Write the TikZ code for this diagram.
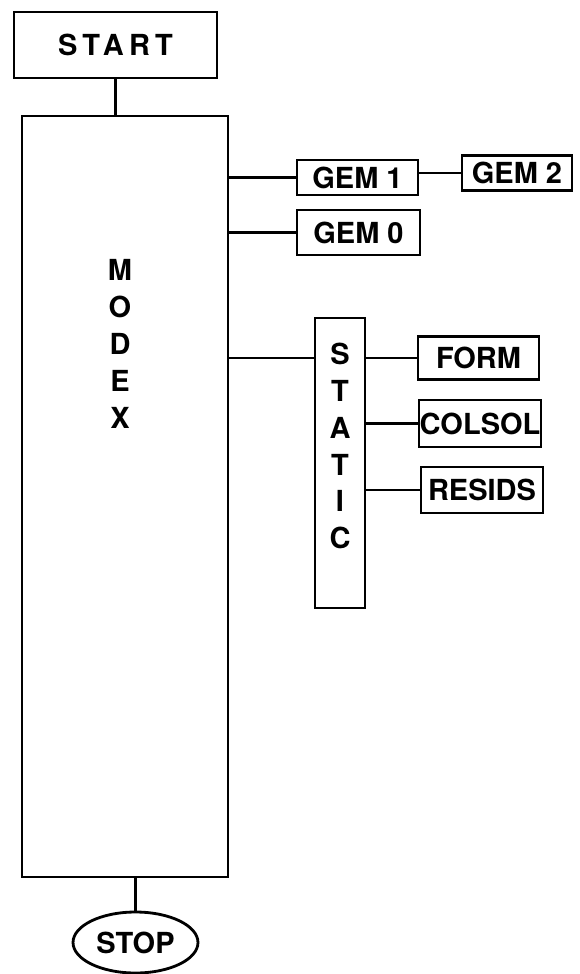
\documentclass[tikz,border=0pt]{standalone}
\usepackage{fontspec}
\setmainfont{TeX Gyre Heros}
\usetikzlibrary{positioning,shapes.geometric}

\begin{document}
\begin{tikzpicture}[
    x=0.02cm, y=-0.02cm,
    box/.style={draw,line width=1.6pt,inner sep=0pt,font=\fontsize{16.5}{19}\selectfont\bfseries},
    stack/.style={align=center,inner sep=0pt,font=\fontsize{16.5}{21}\selectfont\bfseries},
    link/.style={line width=1.6pt}
  ]
    \useasboundingbox (0,0) rectangle (580,974);
    \node[box,minimum width=4.06cm,minimum height=1.32cm] (start) at (115.5,45) {\addfontfeature{LetterSpace=18}START\hspace{0.5cm}};
    \node[box,minimum width=4.12cm,minimum height=15.22cm] (modex) at (125,496.5) {};
    \node[stack] (modextxt) at (120,344) {M\\O\\D\\E\\X};
    \node[box,minimum width=2.42cm,minimum height=0.7cm] (gem1) at (357.5,177.5) {GEM 1};
    \node[box,minimum width=2.2cm,minimum height=0.7cm] (gem2) at (517,173) {GEM 2};
    \node[box,minimum width=2.46cm,minimum height=0.9cm] (gem0) at (358.5,232.5) {GEM 0};
    \node[box,minimum width=1.0cm,minimum height=5.8cm] (static) at (340,463) {};
    \node[stack] (statictxt) at (340,446) {S\\T\\A\\T\\I\\C};
    \node[box,minimum width=2.42cm,minimum height=0.86cm] (form) at (478.5,358) {FORM};
    \node[box,minimum width=2.44cm,minimum height=0.94cm] (colsol) at (480,423.5) {COLSOL};
    \node[box,minimum width=2.44cm,minimum height=0.92cm] (resids) at (482,490) {RESIDS};
    \node[box,ellipse,minimum width=2.5cm,minimum height=1.22cm] (stop) at (135.5,942.5) {STOP};
    % connectors
    \draw[link] (start.south) -- (start.south |- modex.north);
    \draw[link] (gem1.west) -- (gem1.west -| modex.east);
    \draw[link] (gem2.west) -- (gem2.west -| gem1.east);
    \draw[link] (gem0.west) -- (gem0.west -| modex.east);
    \draw[link] (modex.east |- form.west) -- (static.west |- form.west);
    \draw[link] (form.west) -- (form.west -| static.east);
    \draw[link] (colsol.west) -- (colsol.west -| static.east);
    \draw[link] (resids.west) -- (resids.west -| static.east);
    \draw[link] (stop.north) -- (stop.north |- modex.south);
  \end{tikzpicture}
\end{document}
